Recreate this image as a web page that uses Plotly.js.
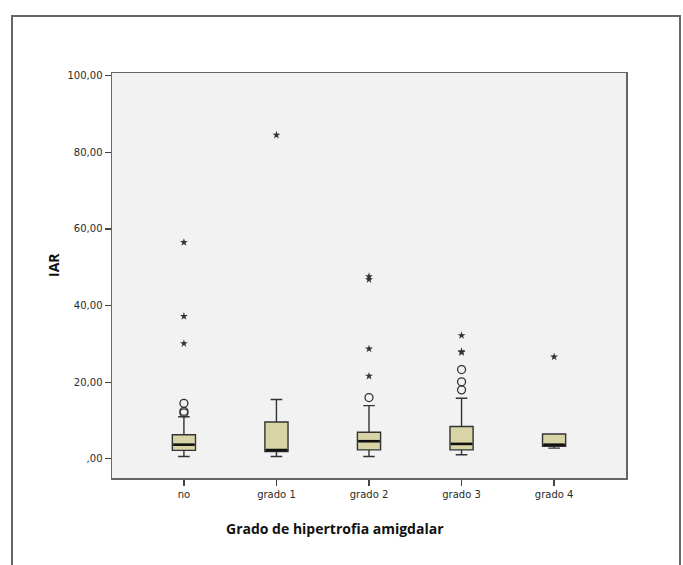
<!DOCTYPE html>
<html>
<head>
<meta charset="utf-8">
<script src="https://cdn.plot.ly/plotly-3.0.1.min.js"></script>
<style>html,body{margin:0;padding:0;background:#fff;}#chart{width:683px;height:565px;}</style>
</head>
<body>
<div id="chart"></div>
<script>
// Categories and box statistics (IAR)
const categories = ['no', 'grado 1', 'grado 2', 'grado 3', 'grado 4'];
const lowerFence = [0.6, 0.6, 0.6, 1.05, 2.8];
const q1 = [2.2, 1.9, 2.35, 2.35, 3.3];
const median = [3.7, 2.3, 4.6, 3.9, 3.7];
const q3 = [6.3, 9.6, 6.95, 8.45, 6.5];
const upperFence = [11.0, 15.5, 13.9, 15.8, 6.5];
// Outliers (circles) and extreme values (stars) per category
const outliers = [[14.5, 12.4, 12.0], [], [16.0], [23.3, 20.1, 18.0], []];
const extremes = [[56.5, 37.2, 30.1], [84.5], [47.6, 46.8, 28.7, 21.6], [32.2, 28.0, 27.8], [26.6]];
// Y tick values and labels
const yTickVals = [0, 20, 40, 60, 80, 100];
const yTickText = [',00', '20,00', '40,00', '60,00', '80,00', '100,00'];

const pos = categories.map((c, i) => i);
const boxW = 0.25;

const boxTrace = {
  type: 'box',
  x: pos,
  q1: q1, median: median, q3: q3,
  lowerfence: lowerFence, upperfence: upperFence,
  width: boxW,
  whiskerwidth: 0.5,
  fillcolor: '#d9d4a6',
  line: {color: '#333', width: 1.4},
  boxpoints: false,
  hoverinfo: 'skip',
  showlegend: false
};

const mx = [], my = [];
pos.forEach((p, i) => { mx.push(p - boxW / 2 + 0.01, p + boxW / 2 - 0.01, null); my.push(median[i], median[i], null); });
const medianTrace = {type: 'scatter', mode: 'lines', x: mx, y: my, line: {color: '#111', width: 2.6}, showlegend: false, hoverinfo: 'skip'};

const ox = [], oy = [], ex = [], ey = [];
outliers.forEach((arr, i) => arr.forEach(v => { ox.push(pos[i]); oy.push(v); }));
extremes.forEach((arr, i) => arr.forEach(v => { ex.push(pos[i]); ey.push(v); }));
const outTrace = {type: 'scatter', mode: 'markers', x: ox, y: oy, marker: {symbol: 'circle-open', size: 8, color: '#333', line: {width: 1.3, color: '#333'}}, showlegend: false, hoverinfo: 'skip'};
const extTrace = {type: 'scatter', mode: 'markers', x: ex, y: ey, marker: {symbol: 'star', size: 6, color: '#333'}, showlegend: false, hoverinfo: 'skip'};

const layout = {
  width: 683, height: 565,
  margin: {l: 112, r: 57, t: 73, b: 87},
  paper_bgcolor: '#ffffff',
  plot_bgcolor: '#f2f2f2',
  font: {family: 'DejaVu Sans, sans-serif', size: 10, color: '#2a2a2a'},
  xaxis: {
    range: [-0.777, 4.777], tickvals: pos, ticktext: categories,
    ticks: 'outside', ticklen: 6, tickcolor: '#444', tickwidth: 1.3,
    showline: true, linecolor: '#666', linewidth: 1.5, mirror: true,
    showgrid: false, zeroline: false, fixedrange: true
  },
  yaxis: {
    range: [-5.0, 100.7], tickvals: yTickVals, ticktext: yTickText,
    ticks: 'outside', ticklen: 6, tickcolor: '#444', tickwidth: 1.3,
    showline: true, linecolor: '#666', linewidth: 1.5, mirror: true,
    showgrid: false, zeroline: false, fixedrange: true
  },
  annotations: [
    {text: 'Grado de hipertrofia amigdalar', xref: 'paper', yref: 'paper', x: (335 - 112) / 514, y: (478 - 528) / 405,
     xanchor: 'center', yanchor: 'middle', showarrow: false, font: {family: 'Open Sans, sans-serif', size: 14, color: '#111', weight: 'bold'}},
    {text: 'IAR', xref: 'paper', yref: 'paper', x: (53 - 112) / 514, y: (478 - 265) / 405, textangle: -90,
     xanchor: 'center', yanchor: 'middle', showarrow: false, font: {family: 'Open Sans, sans-serif', size: 14, color: '#111', weight: 'bold'}}
  ],
  shapes: [
    {type: 'rect', xref: 'paper', yref: 'paper', x0: (12 - 112) / 514, x1: (680 - 112) / 514, y0: (478 - 575) / 405, y1: (478 - 16) / 405,
     line: {color: '#666', width: 2}, fillcolor: 'rgba(0,0,0,0)', layer: 'below'}
  ]
};

Plotly.newPlot('chart', [boxTrace, medianTrace, outTrace, extTrace], layout, {staticPlot: true, displayModeBar: false});
</script>
</body>
</html>
